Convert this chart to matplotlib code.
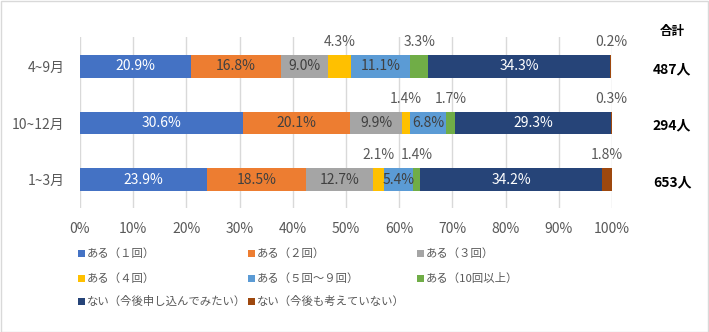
import matplotlib
matplotlib.use("Agg")
import matplotlib.pyplot as plt
from matplotlib.patches import Rectangle
import numpy as np

plt.rcParams['font.family'] = ['Noto Sans CJK JP', 'DejaVu Sans']

# data
periods = ["4~9月", "10~12月", "1~3月"]
totals = ["487人", "294人", "653人"]
categories = ["ある（１回）", "ある（２回）", "ある（３回）",
              "ある（４回）", "ある（５回～９回）", "ある（10回以上）",
              "ない（今後申し込んでみたい）", "ない（今後も考えていない）"]
r_apr_sep = [20.9, 16.8, 9.0, 4.3, 11.1, 3.3, 34.3, 0.2]
r_oct_dec = [30.6, 20.1, 9.9, 1.4, 6.8, 1.7, 29.3, 0.3]
r_jan_mar = [23.9, 18.5, 12.7, 2.1, 5.4, 1.4, 34.2, 1.8]
xticks = [0, 10, 20, 30, 40, 50, 60, 70, 80, 90, 100]

colors = ["#4472C4", "#ED7D31", "#A5A5A5", "#FFC000",
          "#5B9BD5", "#70AD47", "#264478", "#9E480E"]
label_colors = ["white", "#404040", "#404040", "#404040",
                "#404040", "#404040", "white", "#404040"]
outside = {3, 5, 7}   # small segments labelled above the bar
grey = "#595959"

W, H = 709, 332
fig = plt.figure(figsize=(W / 100, H / 100), dpi=100)
fig.patches.append(Rectangle((0.5 / W, 0.5 / H), 1 - 1.5 / W, 1 - 1.5 / H,
                             transform=fig.transFigure, fill=False,
                             edgecolor="#D9D9D9", lw=1))

ax = fig.add_axes([80 / W, 1 - 208 / H, 532 / W, 171 / H])

rows = np.array([r_apr_sep, r_oct_dec, r_jan_mar])
y = np.arange(len(periods))
left = np.zeros(len(periods))
for j, cat in enumerate(categories):
    vals = rows[:, j]
    ax.barh(y, vals, left=left, height=0.4, color=colors[j], zorder=2)
    for i, v in enumerate(vals):
        xc = left[i] + v / 2
        if j in outside:
            ax.text(xc, y[i] - 0.43, f"{v:.1f}%", ha="center", va="center",
                    color=grey, fontsize=10)
        else:
            ax.text(xc, y[i], f"{v:.1f}%", ha="center", va="center",
                    color=label_colors[j], fontsize=10)
    left += vals

ax.set_xlim(0, 100)
ax.set_ylim(2.5, -0.52)
ax.set_xticks(xticks)
ax.set_xticklabels([f"{t}%" for t in xticks])
ax.set_yticks(y)
ax.set_yticklabels(periods)
ax.tick_params(axis="both", length=0, colors=grey, labelsize=10)
ax.tick_params(axis="x", pad=10)
ax.tick_params(axis="y", pad=11)
ax.grid(axis="x", color="#D9D9D9", lw=1, zorder=0)
for s in ax.spines.values():
    s.set_visible(False)

# totals column
tr = ax.get_yaxis_transform()
xt = (672 - 80) / 532
ax.text(xt, -0.62, "合計", transform=tr, ha="center", va="center",
        fontsize=9, fontweight="bold", color="black", clip_on=False)
for i, t in enumerate(totals):
    ax.text(xt, y[i] + 0.05, t, transform=tr, ha="center", va="center",
            fontsize=10, fontweight="bold", color="black", clip_on=False)

# legend (3 columns, row-wise like Excel)
col_x = [78, 248, 417]
row_y = [253, 278, 301]
for k, cat in enumerate(categories):
    cx = col_x[k % 3]
    cy = row_y[k // 3]
    fig.patches.append(Rectangle((cx / W, (H - cy - 3.5) / H), 7 / W, 7 / H,
                                 transform=fig.transFigure,
                                 color=colors[k], lw=0))
    fig.text((cx + 9) / W, (H - cy) / H, cat, ha="left", va="center",
             fontsize=8.2, color=grey)

fig.savefig("out.png", dpi=100)
